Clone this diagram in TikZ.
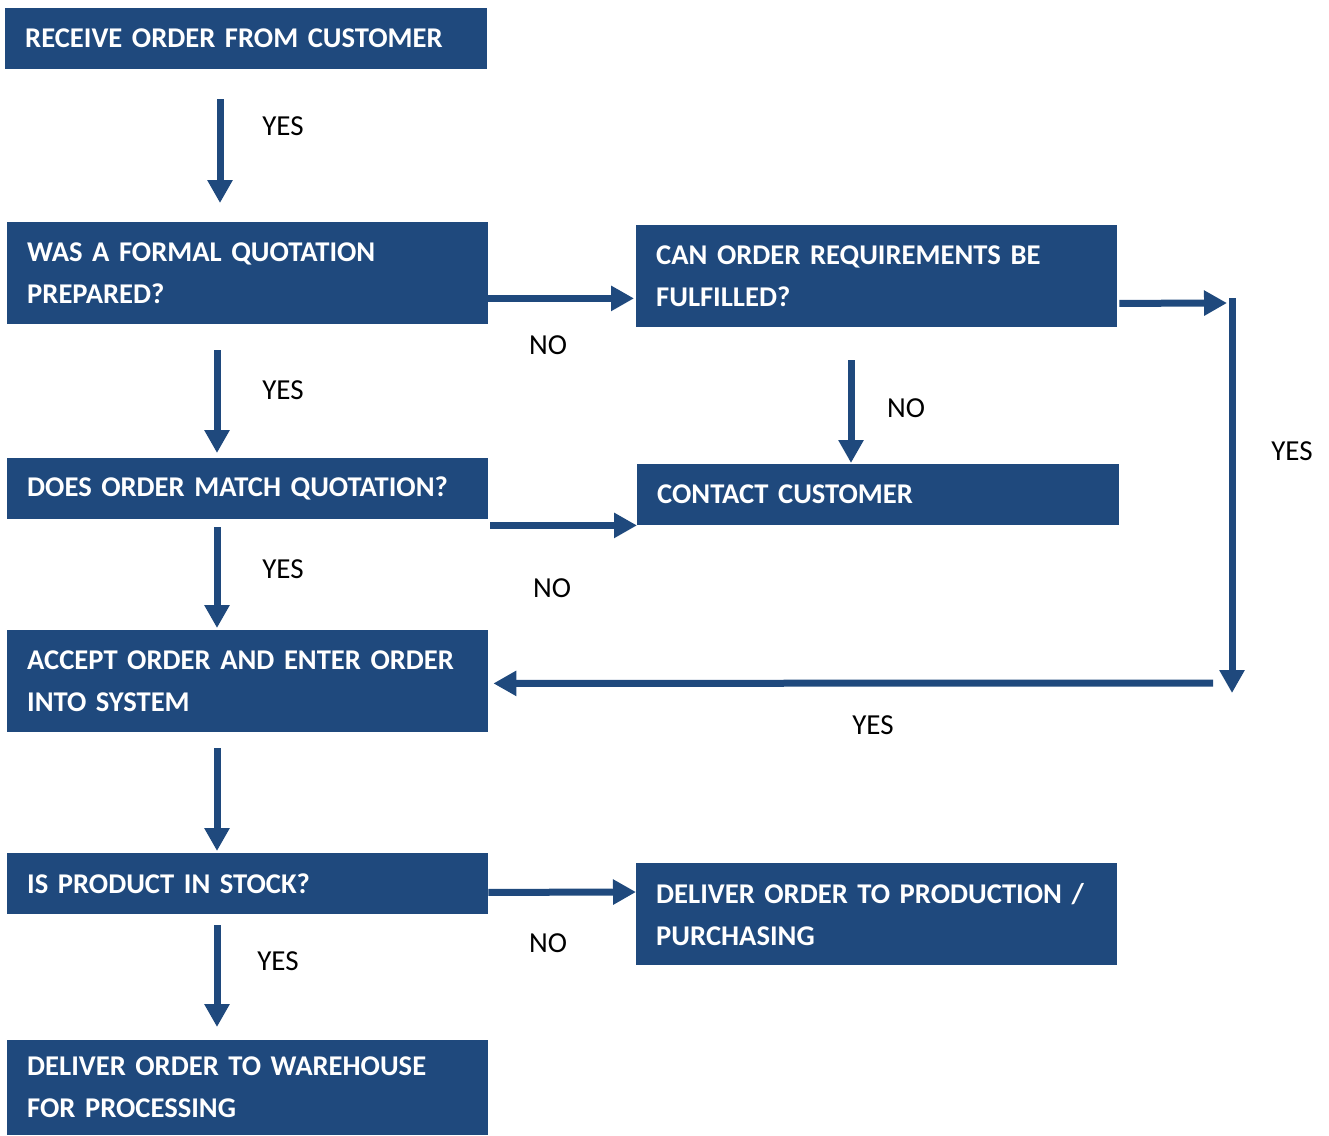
\documentclass[tikz,border=0pt]{standalone}
\usepackage{fontspec}
\setmainfont{Carlito}
\usetikzlibrary{arrows.meta}
\definecolor{navy}{RGB}{31,73,125}
\begin{document}
\begin{tikzpicture}[x=1pt,y=-1pt,
  box/.style={fill=navy, text=white, anchor=north west, inner xsep=20pt, inner ysep=0pt,
    align=left, font=\fontsize{28.6}{42}\selectfont\bfseries},
  arr/.style={draw=navy, line width=7pt, -{Triangle[width=24pt,length=23pt]}},
  lbl/.style={font=\fontsize{29}{32}\selectfont, text=black, inner sep=0pt}]
\useasboundingbox (0,0) rectangle (1329,1135);
\node[box, minimum width=482pt, minimum height=61pt, text width=442pt] (r) at (5,8) {RECEIVE ORDER FROM CUSTOMER};
\node[box, minimum width=481pt, minimum height=102pt, text width=441pt] (q) at (7,222) {WAS A FORMAL QUOTATION\\PREPARED?};
\node[box, minimum width=481pt, minimum height=102pt, text width=441pt] (c) at (636,225) {CAN ORDER REQUIREMENTS BE\\FULFILLED?};
\node[box, minimum width=481pt, minimum height=61pt, text width=441pt] (m) at (7,458) {DOES ORDER MATCH QUOTATION?};
\node[box, minimum width=482pt, minimum height=61pt, text width=442pt] (cc) at (637,464) {CONTACT CUSTOMER};
\node[box, minimum width=481pt, minimum height=102pt, text width=441pt] (a) at (7,630) {ACCEPT ORDER AND ENTER ORDER\\INTO SYSTEM};
\node[box, minimum width=481pt, minimum height=61pt, text width=441pt] (s) at (7,853) {IS PRODUCT IN STOCK?};
\node[box, minimum width=481pt, minimum height=102pt, text width=441pt] (p) at (636,863) {DELIVER ORDER TO PRODUCTION /\\PURCHASING};
\node[box, minimum width=481pt, minimum height=95pt, text width=441pt] (w) at (7,1040) {DELIVER ORDER TO WAREHOUSE\\FOR PROCESSING};

\coordinate (h2end) at (1227,303);
\coordinate (rt) at (1232,298);
\coordinate (rb) at (1232,693);
\coordinate (bk) at (1213,683);

\draw[arr] ([xshift=215pt,yshift=-30pt]r.south west) -- ([xshift=213pt,yshift=19pt]q.north west);
\draw[arr] ([xshift=210pt,yshift=-26pt]q.south west) -- ([xshift=210pt,yshift=5pt]m.north west);
\draw[arr] ([xshift=210pt,yshift=-8pt]m.south west) -- ([xshift=210pt,yshift=2pt]a.north west);
\draw[arr] ([xshift=210pt,yshift=-16pt]a.south west) -- ([xshift=210pt,yshift=2pt]s.north west);
\draw[arr] ([xshift=210pt,yshift=-11pt]s.south west) -- ([xshift=210pt,yshift=13pt]w.north west);
\draw[arr] ([yshift=26pt]q.south east) -- ([xshift=-2pt,yshift=29pt]c.south west);
\draw[arr] ([xshift=2pt,yshift=24pt]c.south east) -- (h2end);
\draw[arr] (rt) -- (rb);
\draw[arr] (bk) -- ([xshift=5pt,yshift=49pt]a.south east);
\draw[arr] ([xshift=215pt,yshift=-33pt]c.south west) -- ([xshift=214pt,yshift=1pt]cc.north west);
\draw[arr] ([xshift=2pt,yshift=-6pt]m.south east) -- (cc.south west);
\draw[arr] ([yshift=22pt]s.south east) -- ([yshift=-29pt]p.north west);

\node[lbl] (l1) at (283,126) {YES};
\node[lbl] (l2) at (283,390) {YES};
\node[lbl] (l3) at (548,345) {NO};
\node[lbl] (l4) at (906,408) {NO};
\node[lbl] (l5) at (1292,451) {YES};
\node[lbl] (l6) at (283,569) {YES};
\node[lbl] (l7) at (552,588) {NO};
\node[lbl] (l8) at (873,725) {YES};
\node[lbl] (l9) at (548,943) {NO};
\node[lbl] (l10) at (278,961) {YES};
\end{tikzpicture}
\end{document}
